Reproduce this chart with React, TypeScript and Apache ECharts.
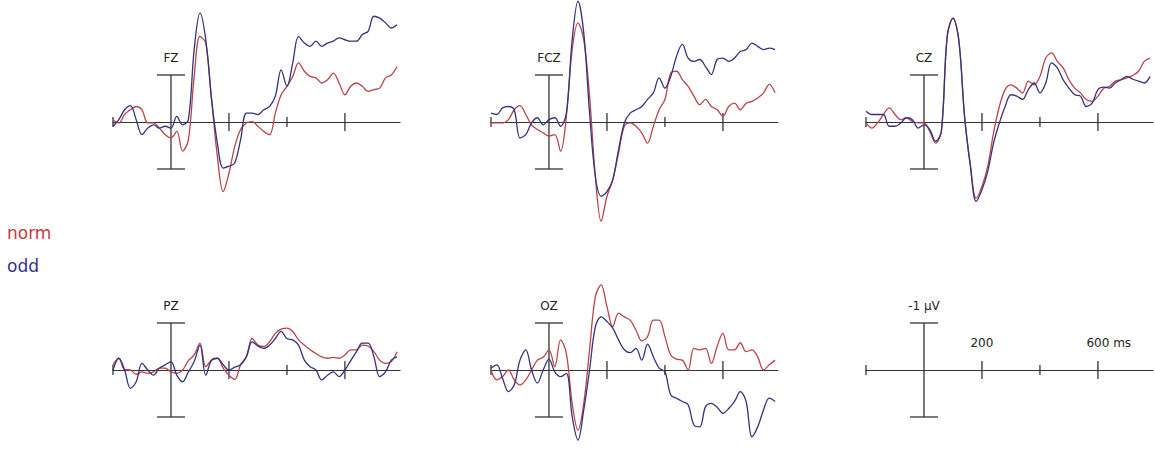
import React, { useEffect, useRef } from "react";
import * as echarts from "echarts";

// time axis (ms)
const times = [
  -200, -180, -160, -140, -120, -100, -80, -60, -40, -20,
  0, 20, 40, 60, 80, 100, 120, 140, 160, 180,
  200, 220, 240, 260, 280, 300, 320, 340, 360, 380,
  400, 420, 440, 460, 480, 500, 520, 540, 560, 580,
  600, 620, 640, 660, 680, 700, 720, 740, 760, 780,
];

// amplitudes in µV (negative plotted upward)
const fzOdd = [
  0.09, -0.05, -0.26, -0.35, -0.05, 0.27, 0.13, 0.06, 0.13, 0.09,
  0.13, -0.12, 0.06, -0.05, -1.54, -2.32, -1.75, -0.48, 0.45, 0.98,
  0.94, 0.87, 0.38, -0.19, -0.19, -0.16, -0.26, -0.33, -0.55, -1.11,
  -0.76, -1.26, -1.82, -1.68, -1.61, -1.72, -1.61, -1.68, -1.72, -1.79,
  -1.75, -1.72, -1.72, -1.86, -1.93, -2.25, -2.21, -2.11, -2.0, -2.07,
];
const fzNorm = [
  -0.05, 0.02, -0.16, -0.26, -0.33, -0.26, 0.02, 0.02, 0.13, 0.27,
  0.34, 0.2, 0.62, 0.38, -0.97, -1.82, -1.68, -0.48, 0.73, 1.48,
  1.09, 0.52, 0.16, 0.02, -0.01, 0.09, 0.2, 0.27, -0.19, -0.58,
  -0.76, -0.97, -1.26, -1.08, -0.97, -0.94, -0.83, -0.9, -1.04, -0.83,
  -0.58, -0.76, -0.83, -0.76, -0.65, -0.69, -0.72, -0.94, -1.0, -1.18,
];
const fczOdd = [
  -0.19, -0.16, -0.3, -0.33, -0.26, 0.34, 0.27, 0.02, -0.09, 0.06,
  -0.05, -0.09, 0.09, -0.19, -1.75, -2.57, -1.89, -0.19, 1.16, 1.58,
  1.48, 1.23, 0.59, 0.02, -0.19, -0.26, -0.33, -0.48, -0.62, -0.94,
  -0.72, -0.97, -1.4, -1.65, -1.36, -1.29, -1.33, -1.18, -1.01, -1.33,
  -1.36, -1.29, -1.36, -1.5, -1.54, -1.68, -1.61, -1.54, -1.57, -1.54,
];
const fczNorm = [
  0.02, 0.02, 0.02, -0.05, -0.26, -0.35, -0.16, 0.06, 0.16, 0.23,
  0.3, 0.27, 0.62, -0.12, -1.54, -2.11, -1.75, -0.55, 1.16, 2.11,
  1.58, 1.23, 0.66, 0.09, 0.02, 0.09, 0.23, 0.45, 0.09, -0.26,
  -0.48, -1.04, -1.08, -0.9, -0.76, -0.55, -0.37, -0.48, -0.33, -0.26,
  -0.12, -0.33, -0.4, -0.26, -0.4, -0.44, -0.51, -0.62, -0.8, -0.62,
];
const czOdd = [
  -0.23, -0.16, -0.16, -0.16, 0.09, 0.09, 0.02, -0.09, -0.05, 0.13,
  0.06, 0.16, 0.41, 0.2, -1.82, -2.21, -1.75, -0.12, 0.94, 1.69,
  1.44, 1.05, 0.45, 0.02, -0.33, -0.58, -0.55, -0.48, -0.69, -0.83,
  -0.62, -0.83, -1.26, -1.15, -0.9, -0.72, -0.58, -0.55, -0.33, -0.4,
  -0.69, -0.74, -0.72, -0.83, -0.9, -0.97, -0.91, -0.87, -0.83, -0.97,
];
const czNorm = [
  0.02, 0.13, 0.02, -0.16, -0.3, -0.16, -0.05, -0.09, -0.01, 0.02,
  0.02, 0.2, 0.45, 0.2, -1.82, -2.21, -1.75, -0.12, 0.91, 1.62,
  1.37, 0.94, 0.23, -0.33, -0.69, -0.79, -0.72, -0.62, -0.87, -0.79,
  -0.97, -1.36, -1.47, -1.29, -1.15, -0.9, -0.72, -0.62, -0.48, -0.44,
  -0.55, -0.72, -0.76, -0.87, -0.9, -0.94, -0.99, -1.08, -1.29, -1.36,
];
const pzOdd = [
  0, -0.25, 0, 0.39, 0.25, -0.14, 0, 0.11, -0.04, -0.11,
  -0.18, 0.11, 0.25, 0.04, -0.18, -0.53, 0.11, -0.21, -0.25, -0.11,
  0, -0.06, -0.11, -0.28, -0.6, -0.51, -0.46, -0.53, -0.67, -0.82,
  -0.67, -0.64, -0.53, -0.21, -0.07, 0, 0.21, 0.11, 0.04, 0.14,
  0, -0.2, -0.39, -0.57, -0.57, -0.28, 0.14, 0.04, -0.21, -0.28,
];
const pzNorm = [
  -0.11, -0.25, -0.01, 0, 0.09, 0.04, 0.07, 0.04, -0.04, -0.04,
  0.04, 0.07, 0, -0.2, -0.32, -0.57, -0.07, -0.21, -0.25, -0.04,
  0.11, 0.2, -0.11, -0.28, -0.67, -0.53, -0.5, -0.6, -0.78, -0.87,
  -0.89, -0.82, -0.64, -0.53, -0.43, -0.35, -0.28, -0.25, -0.27, -0.25,
  -0.32, -0.43, -0.43, -0.53, -0.51, -0.39, -0.21, -0.14, -0.18, -0.39,
];
const ozOdd = [
  -0.04, -0.11, 0.18, 0.46, 0.32, -0.21, -0.43, 0, 0.28, 0,
  -0.23, 0.04, 0.14, 0.07, 0.99, 1.49, 0.85, 0, -0.92, -1.13,
  -1.03, -0.89, -0.64, -0.43, -0.37, -0.46, -0.21, -0.55, -0.28, -0.04,
  0.04, 0.53, 0.6, 0.67, 0.74, 1.17, 1.21, 0.78, 0.71, 0.79,
  0.92, 0.82, 0.67, 0.46, 0.67, 1.42, 1.21, 0.85, 0.6, 0.67,
];
const ozNorm = [
  0, 0.21, 0.14, 0, 0.21, 0.32, 0.21, 0, -0.21, -0.27,
  -0.43, -0.07, -0.64, -0.35, 0.71, 1.28, 0.71, -0.43, -1.56, -1.81,
  -1.35, -0.92, -1.21, -1.13, -1.06, -0.85, -0.62, -0.71, -1.06, -1.06,
  -0.71, -0.32, -0.23, -0.21, 0, -0.46, -0.43, -0.46, -0.14, -0.5,
  -0.78, -0.43, -0.43, -0.58, -0.39, -0.43, -0.28, 0, -0.11, -0.21,
];

const channels = ["FZ", "FCZ", "CZ", "PZ", "OZ"];
const normData = [fzNorm, fczNorm, czNorm, pzNorm, ozNorm];
const oddData = [fzOdd, fczOdd, czOdd, pzOdd, ozOdd];

const tickValues = [-200, 200, 400, 600];
const majorTickValues = [200, 600];
const scaleBarValue = 1; // µV
const scaleLabels = [
  { t: 200, text: "200" },
  { t: 600, text: "600 ms" },
];
const scaleBarLabel = "-1 μV";

const RED = "#b9444a";
const BLUE = "#34347e";
const RED_TEXT = "#c23a40";
const BLUE_TEXT = "#33338a";
const AXIS = "#333333";
const FONT = "DejaVu Sans";

const panelLefts = [113, 491, 866, 113, 491, 866];
const panelAxisY = [122, 122, 122, 370, 370, 370];
const PANEL_W = 287;
const Y_HALF = 2.5;
const PX_PER_UV = 47;

export default function App() {
  const ref = useRef<HTMLDivElement>(null);

  useEffect(() => {
    if (!ref.current) return;
    const chart = echarts.init(ref.current, undefined, { renderer: "svg" });

    const grids: any[] = [];
    const xAxes: any[] = [];
    const yAxes: any[] = [];
    const series: any[] = [];
    const H = Y_HALF * 2 * PX_PER_UV;

    for (let i = 0; i < 6; i++) {
      grids.push({
        left: panelLefts[i],
        top: panelAxisY[i] - H / 2,
        width: PANEL_W,
        height: H,
        containLabel: false,
        outerBoundsMode: "none",
      });
      xAxes.push({
        gridIndex: i,
        type: "value",
        min: -200,
        max: 790,
        axisLine: { show: true, onZero: true, lineStyle: { color: AXIS, width: 1.2 } },
        axisTick: { show: false },
        axisLabel: { show: false },
        splitLine: { show: false },
      });
      yAxes.push({
        gridIndex: i,
        type: "value",
        min: -Y_HALF,
        max: Y_HALF,
        inverse: true,
        show: false,
        splitLine: { show: false },
      });

      // ticks on the time axis
      series.push({
        type: "custom",
        xAxisIndex: i,
        yAxisIndex: i,
        silent: true,
        clip: false,
        data: tickValues.map((v) => [v]),
        renderItem: (params: any, api: any) => {
          const t = api.value(0);
          const p = api.coord([t, 0]);
          const h = majorTickValues.includes(t) ? 9 : 5;
          return {
            type: "line",
            shape: { x1: p[0], y1: p[1] - h, x2: p[0], y2: p[1] + h },
            style: { stroke: AXIS, lineWidth: 1.3 },
          };
        },
      });

      // vertical scale bar at 0 ms with label
      const label = i < 5 ? channels[i] : scaleBarLabel;
      series.push({
        type: "custom",
        xAxisIndex: i,
        yAxisIndex: i,
        silent: true,
        clip: false,
        data: [[0, scaleBarValue]],
        renderItem: (params: any, api: any) => {
          const v = api.value(1);
          const top = api.coord([0, -v]);
          const bot = api.coord([0, v]);
          const cap = 14;
          return {
            type: "group",
            children: [
              {
                type: "line",
                shape: { x1: top[0], y1: top[1], x2: bot[0], y2: bot[1] },
                style: { stroke: AXIS, lineWidth: 1.3 },
              },
              {
                type: "line",
                shape: { x1: top[0] - cap, y1: top[1], x2: top[0] + cap, y2: top[1] },
                style: { stroke: AXIS, lineWidth: 1.3 },
              },
              {
                type: "line",
                shape: { x1: bot[0] - cap, y1: bot[1], x2: bot[0] + cap, y2: bot[1] },
                style: { stroke: AXIS, lineWidth: 1.3 },
              },
              {
                type: "text",
                x: top[0],
                y: top[1] - 17,
                style: {
                  text: label,
                  fill: "#222",
                  font: `12px '${FONT}'`,
                  align: "center",
                  verticalAlign: "middle",
                },
              },
            ],
          };
        },
      });

      if (i < 5) {
        series.push({
          name: "norm",
          type: "line",
          xAxisIndex: i,
          yAxisIndex: i,
          data: times.map((t, k) => [t, normData[i][k]]),
          showSymbol: false,
          smooth: 0.35,
          clip: false,
          lineStyle: { color: RED, width: 1.3 },
          itemStyle: { color: RED },
        });
        series.push({
          name: "odd",
          type: "line",
          xAxisIndex: i,
          yAxisIndex: i,
          data: times.map((t, k) => [t, oddData[i][k]]),
          showSymbol: false,
          smooth: 0.35,
          clip: false,
          lineStyle: { color: BLUE, width: 1.3 },
          itemStyle: { color: BLUE },
        });
      } else {
        series.push({
          type: "custom",
          xAxisIndex: i,
          yAxisIndex: i,
          silent: true,
          clip: false,
          data: scaleLabels.map((s) => [s.t]),
          renderItem: (params: any, api: any) => {
            const t = api.value(0);
            const p = api.coord([t, 0]);
            const item = scaleLabels[params.dataIndex];
            return {
              type: "text",
              x: p[0] - 11.5,
              y: p[1] - 27,
              style: {
                text: item.text,
                fill: "#222",
                font: `12px '${FONT}'`,
                align: "left",
                verticalAlign: "middle",
              },
            };
          },
        });
      }
    }

    chart.setOption({
      animation: false,
      backgroundColor: "#ffffff",
      legend: {
        orient: "vertical",
        left: -3,
        top: 219,
        itemWidth: 0,
        itemHeight: 14,
        itemGap: 16,
        selectedMode: false,
        textStyle: { fontFamily: FONT, fontSize: 17 },
        data: [
          { name: "norm", icon: "none", textStyle: { color: RED_TEXT } },
          { name: "odd", icon: "none", textStyle: { color: BLUE_TEXT } },
        ],
      },
      grid: grids,
      xAxis: xAxes,
      yAxis: yAxes,
      series,
    });

    return () => chart.dispose();
  }, []);

  return (
    <div
      ref={ref}
      style={{ position: "fixed", left: 0, top: 0, width: 1155, height: 450, background: "#fff" }}
    />
  );
}
